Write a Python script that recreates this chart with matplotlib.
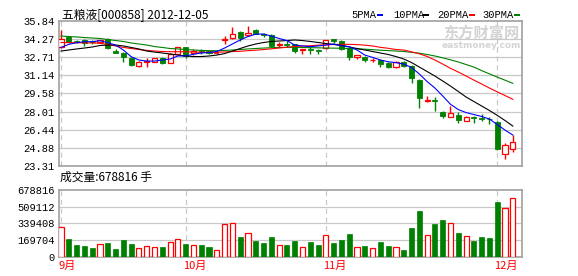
import numpy as np
import matplotlib
matplotlib.use('Agg')
import matplotlib.pyplot as plt
from matplotlib.patches import Rectangle

# daily candles (Sep..Dec 2012), index = trading day shown
opens = [33.58, 34.45, 34.12, 34.22, 34.10, 34.05, 34.28, 33.30, 33.10, 32.68,
         31.98, 32.30, 32.33, 32.68, 32.25, 32.98, 33.58, 33.06, 33.25, 33.26,
         33.08, 34.20, 34.36, 34.88, 34.65, 35.10, 34.72, 34.65, 33.80, 33.90,
         33.87, 33.35, 33.45, 33.35, 33.50, 34.30, 34.15, 33.50, 32.72, 32.75,
         32.45, 32.50, 32.20, 31.90, 32.30, 32.00, 30.75, 28.90, 28.98, 28.00,
         27.56, 27.72, 27.23, 27.50, 27.45, 27.40, 27.10, 24.32, 24.74]
highs = [35.08, 34.55, 34.20, 34.28, 34.22, 34.25, 34.35, 33.45, 33.15, 32.70,
         32.40, 32.63, 32.68, 32.75, 33.05, 33.65, 33.65, 33.45, 33.40, 33.35,
         33.25, 34.57, 35.37, 35.00, 35.43, 35.20, 34.85, 34.75, 34.07, 34.10,
         33.90, 33.45, 33.60, 33.45, 34.25, 34.32, 34.25, 33.55, 32.95, 32.80,
         32.65, 32.60, 32.30, 32.40, 32.40, 32.05, 30.80, 29.38, 29.30, 28.02,
         28.45, 28.00, 27.60, 27.60, 27.78, 27.56, 27.15, 25.30, 25.97]
lows = [33.50, 33.95, 33.95, 33.72, 33.84, 34.00, 33.40, 33.06, 32.33, 31.98,
        31.90, 31.85, 32.28, 32.15, 32.20, 32.95, 32.63, 32.90, 33.00, 33.00,
        33.00, 33.87, 34.30, 34.16, 34.60, 34.70, 34.50, 33.65, 33.58, 33.58,
        33.11, 33.00, 32.98, 33.00, 33.40, 33.95, 33.35, 32.48, 32.54, 32.35,
        32.30, 31.85, 31.75, 31.80, 31.90, 30.45, 28.34, 28.80, 28.08, 27.42,
        27.50, 27.05, 27.15, 27.04, 27.21, 26.92, 24.67, 23.85, 24.50]
closes = [34.30, 34.07, 34.05, 33.99, 34.05, 34.20, 33.50, 33.06, 32.70, 32.05,
          32.33, 32.38, 32.63, 32.22, 32.98, 33.58, 32.80, 33.29, 33.15, 33.06,
          33.12, 34.28, 34.71, 34.43, 34.85, 34.78, 34.65, 33.72, 33.86, 33.82,
          33.26, 33.41, 33.38, 33.29, 34.20, 34.12, 33.45, 32.77, 32.92, 32.48,
          32.50, 32.13, 31.90, 32.35, 32.00, 30.90, 29.20, 28.97, 28.92, 27.65,
          27.91, 27.25, 27.50, 27.45, 27.38, 27.33, 24.72, 25.08, 25.35]

ma5 = [33.58, 33.84, 33.98, 34.07, 34.07, 34.16, 33.98, 33.78, 33.35, 32.77,
       32.48, 32.39, 32.39, 32.48, 32.57, 32.83, 32.83, 32.98, 33.09, 33.13,
       33.22, 33.52, 33.87, 34.22, 34.52, 34.72, 34.74, 34.56, 34.35, 34.17,
       33.78, 33.70, 33.64, 33.70, 33.78, 33.87, 33.72, 33.64, 33.35, 32.91,
       32.71, 32.48, 32.33, 32.25, 32.13, 31.83, 31.27, 30.61, 30.05, 29.36,
       28.64, 28.18, 27.92, 27.75, 27.58, 27.36, 26.88, 26.40, 25.97]
ma10 = [33.26, 33.35, 33.44, 33.52, 33.61, 33.74, 33.78, 33.78, 33.70, 33.57,
        33.44, 33.26, 33.17, 33.09, 33.00, 32.91, 32.83, 32.78, 32.78, 32.83,
        32.91, 33.04, 33.26, 33.48, 33.70, 33.87, 34.00, 34.09, 34.13, 34.17,
        34.22, 34.17, 34.09, 34.00, 33.91, 33.83, 33.74, 33.61, 33.48, 33.35,
        33.22, 33.09, 32.96, 32.78, 32.57, 32.26, 31.87, 31.48, 31.09, 30.66,
        30.22, 29.75, 29.27, 28.88, 28.49, 28.10, 27.68, 27.23, 26.75]
ma20 = [34.00, 33.99, 33.98, 33.97, 33.96, 33.93, 33.83, 33.70, 33.57, 33.48,
        33.39, 33.32, 33.26, 33.22, 33.20, 33.20, 33.19, 33.18, 33.15, 33.15,
        33.16, 33.18, 33.21, 33.24, 33.29, 33.33, 33.39, 33.45, 33.52, 33.59,
        33.65, 33.70, 33.72, 33.77, 33.80, 33.83, 33.84, 33.84, 33.82, 33.77,
        33.70, 33.58, 33.50, 33.39, 33.35, 33.19, 33.02, 32.79, 32.48, 32.13,
        31.76, 31.44, 31.09, 30.74, 30.40, 30.05, 29.72, 29.40, 29.07]
ma30 = [34.56, 34.52, 34.48, 34.43, 34.39, 34.35, 34.26, 34.17, 34.09, 33.96,
        33.87, 33.78, 33.65, 33.57, 33.48, 33.44, 33.39, 33.35, 33.31, 33.29,
        33.29, 33.31, 33.35, 33.39, 33.44, 33.48, 33.52, 33.55, 33.57, 33.58,
        33.58, 33.57, 33.55, 33.54, 33.52, 33.51, 33.50, 33.48, 33.45, 33.42,
        33.38, 33.33, 33.30, 33.26, 33.22, 33.15, 33.07, 32.96, 32.83, 32.67,
        32.50, 32.31, 32.09, 31.87, 31.56, 31.28, 31.00, 30.73, 30.46]

volume = [298700, 179900, 118800, 108600, 88200, 129000, 142500, 78000, 169700, 129000,
          84800, 105200, 95000, 98400, 145900, 176500, 129000, 115400, 118800, 98400,
          67900, 332600, 342800, 200200, 241000, 159500, 139200, 200200, 115400, 118800,
          159500, 95000, 149300, 118800, 217200, 139200, 169700, 230800, 95000, 108600,
          84800, 149300, 108600, 95000, 67900, 291900, 465000, 217200, 332600, 373300,
          339400, 241000, 207000, 159500, 200200, 190100, 556600, 492100, 594000]

price_ticks = [23.31, 24.88, 26.44, 28.01, 29.58, 31.14, 32.71, 34.27, 35.84]
vol_ticks = [0, 169704, 339408, 509112, 678816]
month_pos = [0, 16, 34, 56]
month_labels = ['9月', '10月', '11月', '12月']
ma_names = ['5PMA', '10PMA', '20PMA', '30PMA']
ma_colors = ['#0000ff', '#000000', '#ff0000', '#008000']

RED = '#ff0000'
GREEN = '#008000'
GRID = '#c8c8c8'
BORDER = '#a0a0a0'
CJK = ['Noto Sans CJK SC', 'DejaVu Sans']
MONO = 'Liberation Mono'

W, H = 578, 276
fig = plt.figure(figsize=(W / 100, H / 100), dpi=100)

def fx(px):
    return px / W

def fy(py):
    return 1 - py / H

ax = fig.add_axes([fx(59), fy(165.7), fx(463), 144.4 / H])
axv = fig.add_axes([fx(59), fy(256.7), fx(463), 66.7 / H])

n = len(closes)
x = np.arange(n)
up = [c >= o for o, c in zip(opens, closes)]
bw = 0.66

# price panel
for i in range(n):
    o, c, hi, lo = opens[i], closes[i], highs[i], lows[i]
    bot, top = min(o, c), max(o, c)
    col = RED if up[i] else GREEN
    ax.vlines(i, lo, bot, color=col, lw=1.0, zorder=3)
    ax.vlines(i, top, hi, color=col, lw=1.0, zorder=3)
    if top - bot < 0.04:
        ax.hlines((o + c) / 2, i - bw / 2, i + bw / 2, color=col, lw=1.2, zorder=4)
    elif up[i]:
        ax.add_patch(Rectangle((i - bw / 2, bot), bw, top - bot, facecolor='white',
                               edgecolor=col, lw=0.9, zorder=4))
    else:
        ax.add_patch(Rectangle((i - bw / 2, bot), bw, top - bot, facecolor=col,
                               edgecolor=col, lw=0.6, zorder=4))

for vals, col in zip([ma30, ma20, ma10, ma5], ma_colors[::-1]):
    ax.plot(x, vals, color=col, lw=0.8, zorder=5)

ax.set_ylim(price_ticks[0], price_ticks[-1])
ax.set_yticks(price_ticks)
ax.set_yticklabels(['%.2f' % t for t in price_ticks])

# volume panel
for i in range(n):
    if up[i]:
        axv.add_patch(Rectangle((i - bw / 2, 0), bw, volume[i], facecolor='white',
                                edgecolor=RED, lw=0.9, zorder=4))
    else:
        axv.add_patch(Rectangle((i - bw / 2, 0), bw, volume[i], facecolor=GREEN,
                                edgecolor=GREEN, lw=0.5, zorder=4))
axv.set_ylim(0, vol_ticks[-1])
axv.set_yticks(vol_ticks)
axv.set_yticklabels([str(t) for t in vol_ticks])

for a in (ax, axv):
    a.set_xlim(-0.26, 59.18)
    a.set_xticks([])
    a.tick_params(axis='y', length=0, pad=3, labelsize=7.5, colors='black')
    for lab in a.get_yticklabels():
        lab.set_family(MONO)
    for t in a.get_yticks()[1:-1]:
        a.axhline(t, color=GRID, lw=0.9, zorder=1)
    for m in month_pos:
        a.axvline(m, color=GRID, lw=0.9, ls=(0, (4, 3)), zorder=1)
    for s in a.spines.values():
        s.set_color(BORDER)
        s.set_linewidth(1.2)

# month labels under volume panel
for m, lab in zip(month_pos, month_labels):
    axv.text(m - 0.35, -0.07, lab, transform=axv.get_xaxis_transform(), color=RED,
             fontsize=8, family=CJK, ha='left', va='top')

# titles
fig.text(fx(62), fy(15), '五粮液[000858] 2012-12-05', family=CJK, fontsize=8.5,
         ha='left', va='center')
fig.text(fx(60), fy(177), '成交量:678816 手', family=CJK, fontsize=8.5,
         ha='left', va='center')

# legend
leg_x = [351, 393, 437, 482]
sq_x = [377, 423, 469, 514]
for lx, sx, name, col in zip(leg_x, sq_x, ma_names, ma_colors):
    fig.text(fx(lx), fy(15), name, family=MONO, fontsize=7.5, ha='left', va='center')
    fig.patches.append(Rectangle((fx(sx), fy(16)), fx(6), 2 / H, facecolor=col,
                                 edgecolor='none', transform=fig.transFigure))

# watermark
fig.text(fx(481), fy(33), '东方财富网', family=CJK, fontsize=11, fontweight='bold',
         color='#d4d4d4', ha='center', va='center', zorder=0)
fig.text(fx(481), fy(45), 'eastmoney.com', fontsize=6.5, fontweight='bold',
         color='#d4d4d4', ha='center', va='center', zorder=0)

fig.savefig('out.png', dpi=100, facecolor='white')
